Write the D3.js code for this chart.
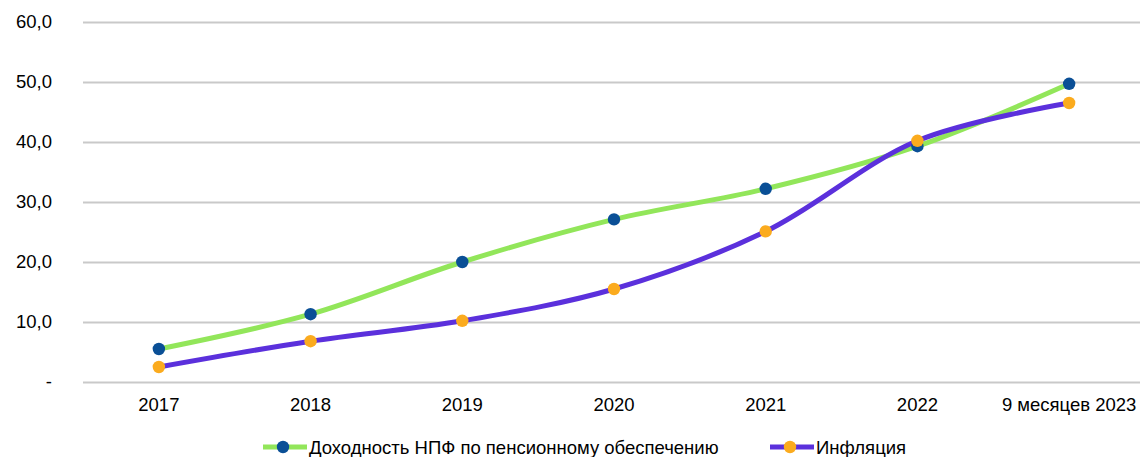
<!DOCTYPE html>
<html>
<head>
<meta charset="utf-8">
<script src="https://cdn.jsdelivr.net/npm/d3@7"></script>
<style>
  body { margin: 0; background: #fff; }
  text { font-family: "Liberation Sans", Arial, sans-serif; fill: #000; }
</style>
</head>
<body>
<div id="chart"></div>
<script>
const categories = ['2017', '2018', '2019', '2020', '2021', '2022', '9 месяцев 2023']
const npfReturn = [5.5, 11.3, 20.0, 27.1, 32.2, 39.3, 49.7]
const inflation = [2.5, 6.8, 10.2, 15.5, 25.1, 40.2, 46.5]
const yTicks = [0, 10, 20, 30, 40, 50, 60]
const seriesNames = ['Доходность НПФ по пенсионному обеспечению', 'Инфляция']

const width = 1140
const height = 457
const margin = {top: 22, right: -5, bottom: 75, left: 83}

const svg = d3.select('#chart').append('svg')
  .attr('width', width)
  .attr('height', height)

const xScale = d3.scaleBand()
  .domain(categories)
  .range([margin.left, width - margin.right])

const yScale = d3.scaleLinear()
  .domain([0, 60])
  .range([height - margin.bottom, margin.top])

// grid + y labels
const yAxis = g => g
  .attr('transform', `translate(${margin.left},0)`)
  .call(d3.axisLeft(yScale)
    .tickValues(yTicks)
    .tickSize(-(width - margin.left))
    .tickPadding(31)
    .tickFormat(d => d === 0 ? '-' : d3.format('.1f')(d).replace('.', ',')))
  .call(g => g.select('.domain').remove())
  .call(g => g.selectAll('.tick line').attr('stroke', '#c9c9c9').attr('stroke-width', 2))
  .call(g => g.selectAll('.tick text').style('font-size', '18.5px').attr('fill', '#000'))

svg.append('g').call(yAxis)

const xAxis = g => g
  .attr('transform', `translate(0,${height - margin.bottom})`)
  .call(d3.axisBottom(xScale).tickSize(0).tickPadding(16))
  .call(g => g.select('.domain').remove())
  .call(g => g.selectAll('.tick text').style('font-size', '18.5px').attr('fill', '#000'))

svg.append('g').call(xAxis)

const series = [
  {name: seriesNames[0], values: npfReturn, line: '#92e65a', marker: '#0a4f96'},
  {name: seriesNames[1], values: inflation, line: '#5b30dc', marker: '#fbab1e'}
]

const line = d3.line()
  .x((d, i) => xScale(categories[i]) + xScale.bandwidth() / 2)
  .y(d => yScale(d))
  .curve(d3.curveCatmullRom)

series.forEach(s => {
  svg.append('path')
    .attr('d', line(s.values))
    .attr('fill', 'none')
    .attr('stroke', s.line)
    .attr('stroke-width', 5)
})

series.forEach(s => {
  svg.append('g')
    .selectAll('circle')
    .data(s.values)
    .join('circle')
    .attr('cx', (d, i) => xScale(categories[i]) + xScale.bandwidth() / 2)
    .attr('cy', d => yScale(d))
    .attr('r', 6.2)
    .attr('fill', s.marker)
})

// legend
const legendX = [263, 770]
series.forEach((s, i) => {
  const g = svg.append('g').attr('transform', `translate(${legendX[i]},447)`)
  g.append('line')
    .attr('x1', 0).attr('x2', 44)
    .attr('stroke', s.line).attr('stroke-width', 5)
  g.append('circle')
    .attr('cx', 20).attr('r', 6.2)
    .attr('fill', s.marker)
  g.append('text')
    .attr('x', 46).attr('dy', '0.36em')
    .style('font-size', '18.5px')
    .text(s.name)
})
</script>
</body>
</html>
